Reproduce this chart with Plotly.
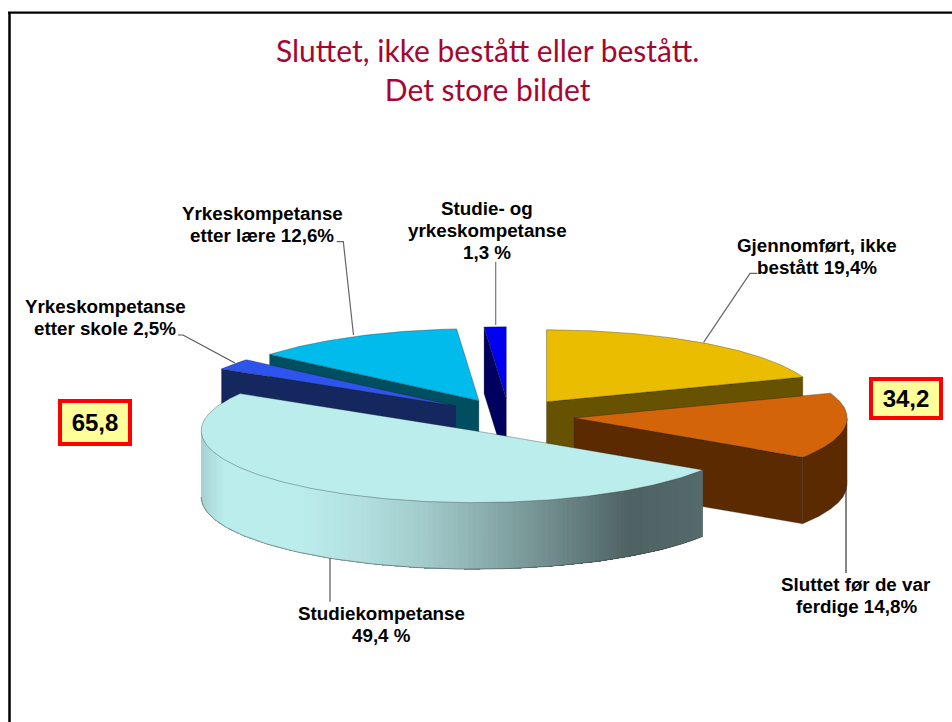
import numpy as np
import plotly.graph_objects as go

# ---- data (clockwise from 12 o'clock) ----
categories = ["Gjennomført, ikke bestått", "Sluttet før de var ferdige", "Studiekompetanse",
              "Yrkeskompetanse etter skole", "Yrkeskompetanse etter lære", "Studie- og yrkeskompetanse"]
values = [19.4, 14.8, 49.4, 2.5, 12.6, 1.3]
slice_labels = ["Gjennomført, ikke<br>bestått 19,4%", "Sluttet før de var<br>ferdige 14,8%",
                "Studiekompetanse<br>49,4 %", "Yrkeskompetanse<br>etter skole 2,5%",
                "Yrkeskompetanse<br>etter lære 12,6%", "Studie- og<br>yrkeskompetanse<br>1,3 %"]
group_labels = ["65,8", "34,2"]
title_text = "Sluttet, ikke bestått eller bestått.<br>Det store bildet"

# ---- styles ----
top_colors = ["#EBBD00", "#D4640A", "#BCEDED", "#2D55EE", "#00BBEB", "#0000F0"]
wall_colors = ["#665200", "#5C2A00", None, "#14275F", "#004F60", "#00005F"]
draw_order = [4, 5, 3, 0, 1, 2]
label_pos = [(817, 256), (856, 595.5), (381, 624), (105, 317), (262, 224), (487, 230)]
LABEL_PITCH = 22
CX, CY, RX, RY, DEPTH, PULL = 509.0, 416.0, 273.0, 72.0, 66.5, 0.24
grad_x = [201, 212, 225, 300, 360, 427, 528, 630, 703]
grad_c = [(168, 208, 208), (178, 224, 224), (188, 237, 237), (188, 237, 237), (179, 224, 224),
          (162, 202, 202), (122, 153, 153), (79, 98, 100), (86, 107, 108)]

fig = go.Figure()


def poly(xs, ys, fill, line="rgba(0,0,0,0)", width=0.0):
    fig.add_trace(go.Scatter(x=xs, y=ys, mode="lines", fill="toself", fillcolor=fill,
                             line=dict(color=line, width=width), hoverinfo="skip", showlegend=False))


total = sum(values)
edges = np.cumsum([0] + values) / total * 2 * np.pi


def pt(a, b, t, r=1.0):
    return a + RX * r * np.sin(t), b - RY * r * np.cos(t)


for i in draw_order:
    t0, t1 = edges[i], edges[i + 1]
    mid = (t0 + t1) / 2
    ax, ay = pt(CX, CY, mid, PULL)
    sx, sy = pt(ax, ay, t0)
    ex, ey = pt(ax, ay, t1)
    wall = wall_colors[i]
    edge = "rgba(30,30,30,0.55)"
    # radial walls that face the viewer
    if wall and np.sin(t0) < -1e-6:
        poly([ax, sx, sx, ax, ax], [ay, sy, sy + DEPTH, ay + DEPTH, ay], wall, edge, 0.5)
    if wall and np.sin(t1) > 1e-6:
        poly([ax, ex, ex, ax, ax], [ay, ey, ey + DEPTH, ay + DEPTH, ay], wall, edge, 0.5)
    # outer rim on the front half of the ellipse
    lo, hi = max(t0, np.pi / 2), min(t1, 3 * np.pi / 2)
    if hi > lo:
        tt = np.linspace(lo, hi, 140)
        x, y = pt(ax, ay, tt)
        if wall:
            poly(np.r_[x, x[::-1], x[0]], np.r_[y, y[::-1] + DEPTH, y[0]], wall, edge, 0.5)
        else:
            # gradient rim: painted right to left, each band running on to the far end so no seams show
            for k in range(len(tt) - 1):
                xm = (x[k] + x[k + 1]) / 2
                r, g, bl = [int(np.interp(xm, grad_x, [c[j] for c in grad_c])) for j in range(3)]
                col = f"rgb({r},{g},{bl})"
                poly(np.r_[x[k:], x[k:][::-1], x[k]], np.r_[y[k:], y[k:][::-1] + DEPTH, y[k]], col)
            fig.add_trace(go.Scatter(x=x, y=y + DEPTH, mode="lines", line=dict(color="rgba(70,70,70,0.7)", width=0.8),
                                     hoverinfo="skip", showlegend=False))
            fig.add_trace(go.Scatter(x=[ex, ex], y=[ey, ey + DEPTH], mode="lines",
                                     line=dict(color="rgba(70,70,70,0.7)", width=0.6),
                                     hoverinfo="skip", showlegend=False))
    # top face
    tt = np.linspace(t0, t1, max(8, int((t1 - t0) * 80)))
    x, y = pt(ax, ay, tt)
    poly(np.r_[ax, x, ax], np.r_[ay, y, ay], top_colors[i], edge, 0.6)

# leader lines
leaders = [
    ([703.6, 750, 757.4], [342.3, 273.3, 273.3], "#666666"),
    ([846, 846], [483, 573], "#333333"),
    ([330, 330], [558, 601.7], "#555555"),
    ([178, 183, 235], [335, 335, 363], "#555555"),
    ([336.7, 343.3, 353.5], [241.7, 241.7, 335], "#666666"),
    ([495.7, 495.7], [261.7, 325], "#777777"),
]
for lx, ly, lc in leaders:
    fig.add_trace(go.Scatter(x=lx, y=ly, mode="lines", line=dict(color=lc, width=1.2),
                             hoverinfo="skip", showlegend=False))

annotations = []
for txt, (x, y) in zip(slice_labels, label_pos):
    lines = txt.split("<br>")
    for k, line in enumerate(lines):
        annotations.append(dict(x=x, y=y + (k - (len(lines) - 1) / 2) * LABEL_PITCH, xref="x", yref="y",
                                text="<b>" + line + "</b>", showarrow=False, align="center",
                                font=dict(family="Liberation Sans", size=18.8, color="#000000"),
                                xanchor="center", yanchor="middle"))
for txt, x, y, h in zip(group_labels, [95, 905.5], [422.5, 398.5], [39, 35]):
    annotations.append(dict(x=x, y=y, xref="x", yref="y", text="<b>" + txt + "</b>", showarrow=False,
                            font=dict(family="Liberation Sans", size=24, color="#000000"),
                            width=66, height=h, bgcolor="#FFFF99", bordercolor="#FF0000",
                            borderwidth=4, borderpad=0, xanchor="center", yanchor="middle", valign="middle"))
annotations.append(dict(x=487.5, y=69, xref="x", yref="y", text=title_text, showarrow=False, align="center",
                        font=dict(family="Lato", size=30, color="#A6062F"), xanchor="center", yanchor="middle"))

frame = [
    dict(type="line", xref="x", yref="y", x0=9.5, x1=9.5, y0=12, y1=722, line=dict(color="#000000", width=2.5), layer="below"),
    dict(type="line", xref="x", yref="y", x0=8, x1=952, y0=12.7, y1=12.7, line=dict(color="#000000", width=2.2), layer="below"),
]

fig.update_layout(
    width=952, height=722, margin=dict(l=0, r=0, t=0, b=0), autosize=False,
    paper_bgcolor="white", plot_bgcolor="white", showlegend=False,
    xaxis=dict(range=[0, 952], visible=False, fixedrange=True),
    yaxis=dict(range=[722, 0], visible=False, fixedrange=True),
    annotations=annotations, shapes=frame,
)
fig.write_html("out.html", config={"displayModeBar": False},
               post_script="document.body.style.margin='0';document.body.style.overflow='hidden';")
